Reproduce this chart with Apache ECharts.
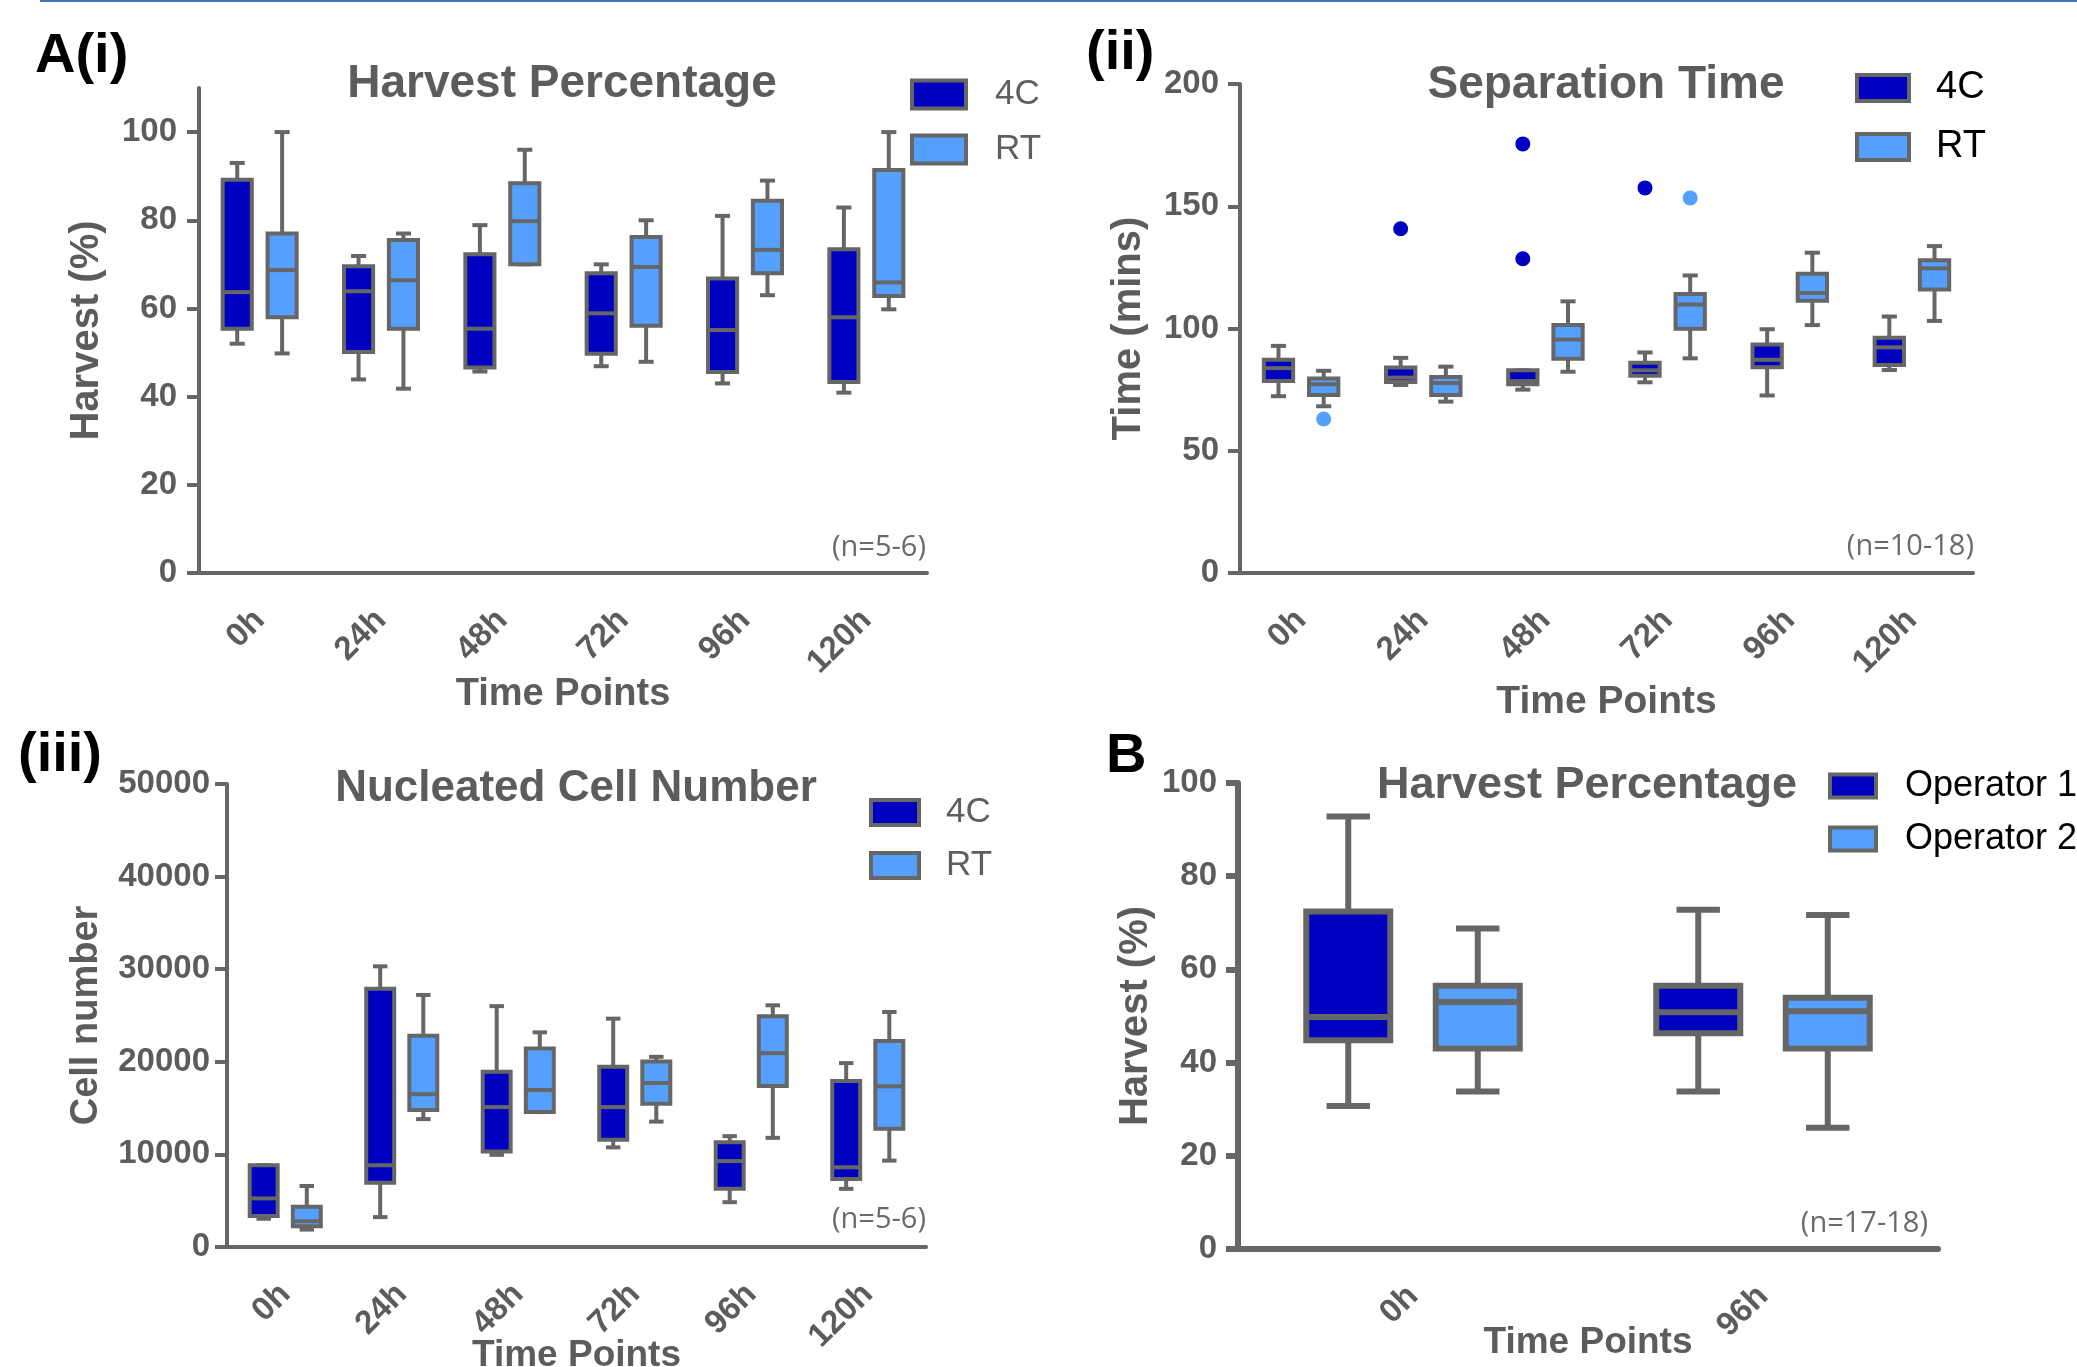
<!DOCTYPE html>
<html>
<head>
<meta charset="utf-8">
<title>Harvest, separation time and cell number box plots</title>
<script src="https://cdn.jsdelivr.net/npm/echarts@6/dist/echarts.min.js"></script>
<style>
  html, body { margin: 0; padding: 0; background: #fff; }
  #chart { width: 2077px; height: 1367px; }
</style>
</head>
<body>
<div id="chart"></div>
<script>
// categories
var timeLabels = ['0h', '24h', '48h', '72h', '96h', '120h'];
var operatorTimes = ['0h', '96h'];

// every box is [min, q1, median, q3, max]
var harvest4C = [[52.0, 55.4, 63.7, 89.2, 93.0], [43.9, 50.1, 63.9, 69.6, 71.9], [45.7, 46.6, 55.4, 72.3, 78.9],
                 [46.9, 49.7, 58.9, 68.0, 70.0], [43.0, 45.6, 55.1, 66.8, 81.0], [40.9, 43.3, 58.0, 73.4, 82.9]];
var harvestRT = [[49.8, 58.0, 68.7, 77.0, 100], [41.8, 55.4, 66.4, 75.5, 77.0], [70.0, 70.0, 79.8, 88.4, 96.0],
                 [47.9, 56.1, 69.4, 76.2, 80.0], [63.0, 68.0, 73.3, 84.4, 89.0], [59.8, 62.8, 65.9, 91.4, 100]];

var sepTime4C = [[72.3, 78.5, 83.8, 87.2, 92.9], [76.9, 78.1, 79.9, 84.0, 88.0], [75.0, 77.2, 78.5, 82.9, 82.9],
                 [78.0, 80.7, 82.9, 86.0, 90.2], [72.6, 84.2, 87.2, 93.5, 99.7], [83.0, 85.1, 92.3, 96.2, 104.9]];
var sepTimeRT = [[68.2, 72.8, 77.2, 79.6, 82.7], [70.1, 72.8, 77.7, 80.2, 84.4], [82.3, 87.6, 95.5, 101.4, 111.1],
                 [87.8, 99.9, 109.8, 114.1, 121.7], [101.4, 111.3, 114.5, 122.4, 131.0], [103.1, 115.9, 124.6, 127.9, 133.7]];
// outliers: [category index, value]
var sepOut4C = [[1, 140.8], [2, 175.5], [2, 128.5], [3, 157.5]];
var sepOutRT = [[0, 63.0], [3, 153.4]];

var cells4C = [[3050, 3360, 5250, 8830, 8830], [3230, 6950, 8830, 27890, 30310], [9950, 10310, 15110, 18920, 26010],
               [10760, 11570, 15110, 19460, 24660], [4840, 6280, 9280, 11300, 11970], [6280, 7350, 8610, 17940, 19860]];
var cellsRT = [[1880, 2240, 2780, 4350, 6590], [13810, 14800, 16500, 22820, 27220], [14570, 14570, 16950, 21430, 23180],
               [13540, 15470, 17710, 20040, 20540], [11790, 17400, 20940, 24930, 26100], [9330, 12780, 17350, 22240, 25380]];

var operator1 = [[30.7, 44.8, 49.8, 72.4, 92.8], [33.8, 46.3, 50.8, 56.5, 72.8]];
var operator2 = [[33.8, 43.0, 53.0, 56.5, 68.8], [26.0, 43.0, 51.0, 53.9, 71.7]];

var harvestTicks = [0, 20, 40, 60, 80, 100];

var FONT = "'Liberation Sans', Arial, sans-serif";
var GRAY = '#666666';
var TEXT = '#5c5c5c';
var DARK = '#0000c0';
var LIGHT = '#55a0ff';

function rows(boxes) {
  return boxes.map(function (b, i) { return [i].concat(b); });
}

// side: -1 left box, +1 right box
function boxRenderer(side, lw) {
  return function (params, api) {
    var cat = api.value(0);
    var band = api.size([1, 0])[0];
    var cx = api.coord([cat, 0])[0] + side * band * 0.185;
    var half = band * 0.12;
    var cap = band * 0.062;
    var yMin = api.coord([cat, api.value(1)])[1];
    var yQ1 = api.coord([cat, api.value(2)])[1];
    var yMed = api.coord([cat, api.value(3)])[1];
    var yQ3 = api.coord([cat, api.value(4)])[1];
    var yMax = api.coord([cat, api.value(5)])[1];
    var st = { stroke: GRAY, lineWidth: lw };
    return {
      type: 'group',
      children: [
        { type: 'line', shape: { x1: cx, y1: yQ3, x2: cx, y2: yMax }, style: st },
        { type: 'line', shape: { x1: cx, y1: yQ1, x2: cx, y2: yMin }, style: st },
        { type: 'line', shape: { x1: cx - cap, y1: yMax, x2: cx + cap, y2: yMax }, style: st },
        { type: 'line', shape: { x1: cx - cap, y1: yMin, x2: cx + cap, y2: yMin }, style: st },
        { type: 'rect', shape: { x: cx - half, y: yQ3, width: half * 2, height: yQ1 - yQ3 },
          style: { fill: api.visual('color'), stroke: GRAY, lineWidth: lw } },
        { type: 'line', shape: { x1: cx - half, y1: yMed, x2: cx + half, y2: yMed }, style: st }
      ]
    };
  };
}

function dotRenderer(side) {
  return function (params, api) {
    var band = api.size([1, 0])[0];
    var p = api.coord([api.value(0), api.value(1)]);
    return { type: 'circle', shape: { cx: p[0] + side * band * 0.185, cy: p[1], r: 7.5 },
             style: { fill: api.visual('color') } };
  };
}

function boxSeries(name, color, axis, data, side, lw) {
  return {
    type: 'custom', name: name, xAxisIndex: axis, yAxisIndex: axis,
    itemStyle: { color: color },
    renderItem: boxRenderer(side, lw),
    encode: { x: 0, y: [1, 2, 3, 4, 5] },
    data: rows(data)
  };
}

function dotSeries(name, color, axis, data, side) {
  return {
    type: 'custom', name: name, xAxisIndex: axis, yAxisIndex: axis,
    itemStyle: { color: color },
    renderItem: dotRenderer(side),
    encode: { x: 0, y: 1 },
    data: data
  };
}

function xAxis(grid, cats, nameGap, nameSize, lw) {
  return {
    type: 'category', gridIndex: grid, data: cats,
    name: 'Time Points', nameLocation: 'middle', nameGap: nameGap, nameMoveOverlap: false,
    nameTextStyle: { fontFamily: FONT, fontWeight: 'bold', fontSize: nameSize, color: TEXT },
    axisLine: { lineStyle: { color: GRAY, width: lw } },
    axisTick: { alignWithLabel: true, length: 13, lineStyle: { color: GRAY, width: lw } },
    axisLabel: { rotate: 45, margin: 42, fontFamily: FONT, fontWeight: 'bold', fontSize: 33, color: TEXT },
    splitLine: { show: false }
  };
}

function yAxis(grid, name, max, interval, nameGap, nameSize, margin, lw) {
  return {
    type: 'value', gridIndex: grid, min: 0, max: max, interval: interval,
    name: name, nameLocation: 'middle', nameGap: nameGap,
    nameTextStyle: { fontFamily: FONT, fontWeight: 'bold', fontSize: nameSize, color: TEXT },
    axisLine: { show: true, lineStyle: { color: GRAY, width: lw } },
    axisTick: { show: true, length: 12, lineStyle: { color: GRAY, width: lw } },
    axisLabel: { margin: margin, fontFamily: FONT, fontWeight: 'bold', fontSize: 33, color: TEXT,
                 formatter: function (v) { return String(v); } },
    splitLine: { show: false }
  };
}

function legend(names, left, top, w, h, gap, fontSize, color, pad) {
  return {
    data: names, orient: 'vertical', left: left, top: top, padding: 0,
    icon: 'rect', itemWidth: w, itemHeight: h, itemGap: gap,
    itemStyle: { borderColor: GRAY, borderWidth: 4 },
    textStyle: { fontFamily: FONT, fontSize: fontSize, color: color, padding: [0, 0, 0, pad] },
    selectedMode: false
  };
}

function title(text, center, top, size) {
  return { text: text, left: center, top: top, textAlign: 'center', padding: 0,
           textStyle: { fontFamily: FONT, fontWeight: 'bold', fontSize: size, color: TEXT } };
}

function label(text, x, y) {
  return { type: 'text', x: x, y: y,
           style: { text: text, font: "bold 56px 'Liberation Sans', Arial, sans-serif", fill: '#000', verticalAlign: 'top' } };
}

function nNote(text, right, y) {
  return { type: 'text', x: right, y: y,
           style: { text: text, font: "29px 'Open Sans', sans-serif", fill: '#6a6a6a', align: 'right', verticalAlign: 'middle' } };
}

var yHarvest = yAxis(0, 'Harvest (%)', 110, 20, 92, 40, 22, 4);
yHarvest.axisTick.customValues = harvestTicks;
yHarvest.axisLabel.customValues = harvestTicks;

var chart = echarts.init(document.getElementById('chart'));
chart.setOption({
  animation: false,
  backgroundColor: '#fff',
  title: [
    title('Harvest Percentage', 562, 61, 46),
    title('Separation Time', 1606, 62, 46),
    title('Nucleated Cell Number', 576, 767, 44),
    title('Harvest Percentage', 1587, 763, 45)
  ],
  legend: [
    legend(['4C', 'RT'], 910, 77, 54, 28, 20, 35, '#5f5f5f', 24),
    legend(['4C', 'RT'], 1855, 69, 52, 26, 21, 38, '#000', 22),
    legend(['4C', 'RT'], 869, 795, 48, 25, 18, 35, '#5f5f5f', 22),
    legend(['Operator 1', 'Operator 2'], 1828, 768, 46, 23, 17, 36, '#000', 24)
  ],
  grid: [
    { left: 199, top: 88, width: 728, height: 485, outerBoundsMode: 'none' },
    { left: 1240, top: 84, width: 733, height: 489, outerBoundsMode: 'none' },
    { left: 227, top: 784, width: 699, height: 463, outerBoundsMode: 'none' },
    { left: 1238, top: 783, width: 700, height: 466, outerBoundsMode: 'none' }
  ],
  xAxis: [
    xAxis(0, timeLabels, 103, 38, 4),
    xAxis(1, timeLabels, 110, 39, 4),
    xAxis(2, timeLabels, 90, 37, 4),
    xAxis(3, operatorTimes, 75, 37, 6)
  ],
  yAxis: [
    yHarvest,
    yAxis(1, 'Time (mins)', 200, 50, 91, 40, 21, 4),
    yAxis(2, 'Cell number', 50000, 10000, 121, 38, 17, 4),
    yAxis(3, 'Harvest (%)', 100, 20, 82, 40, 21, 6)
  ],
  series: [
    boxSeries('4C', DARK, 0, harvest4C, -1, 4),
    boxSeries('RT', LIGHT, 0, harvestRT, 1, 4),
    boxSeries('4C', DARK, 1, sepTime4C, -1, 4),
    boxSeries('RT', LIGHT, 1, sepTimeRT, 1, 4),
    dotSeries('4C', DARK, 1, sepOut4C, -1),
    dotSeries('RT', LIGHT, 1, sepOutRT, 1),
    boxSeries('4C', DARK, 2, cells4C, -1, 4),
    boxSeries('RT', LIGHT, 2, cellsRT, 1, 4),
    boxSeries('Operator 1', DARK, 3, operator1, -1, 6),
    boxSeries('Operator 2', LIGHT, 3, operator2, 1, 6)
  ],
  graphic: [
    { type: 'line', shape: { x1: 40, y1: 1, x2: 2077, y2: 1 }, style: { stroke: '#4a72b8', lineWidth: 2 } },
    label('A(i)', 35, 29),
    label('(ii)', 1086, 26),
    label('(iii)', 18, 728),
    label('B', 1106, 729),
    nNote('(n=5-6)', 926, 548),
    nNote('(n=10-18)', 1974, 547),
    nNote('(n=5-6)', 926, 1220),
    nNote('(n=17-18)', 1928, 1224)
  ]
});
</script>
</body>
</html>
